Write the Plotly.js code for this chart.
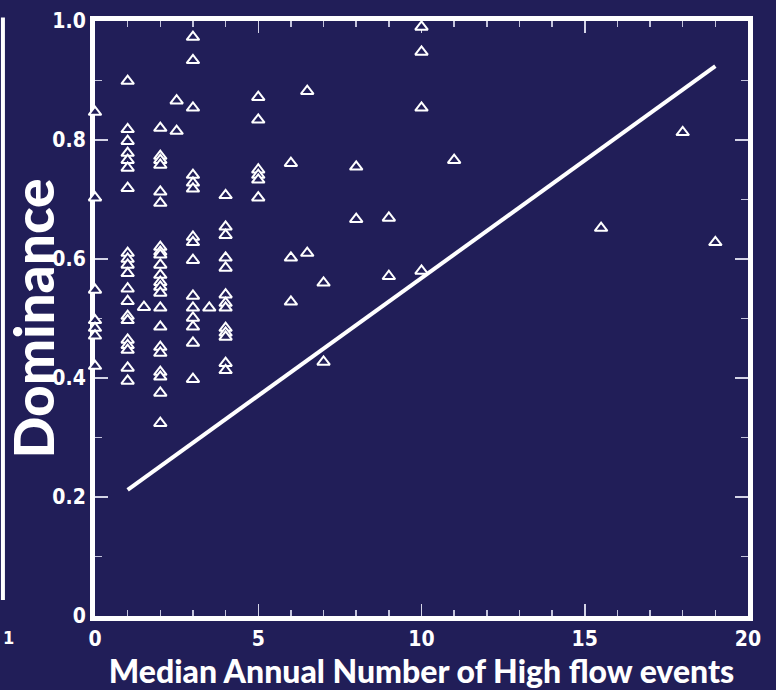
<!DOCTYPE html>
<html>
<head>
<meta charset="utf-8">
<script src="https://cdn.plot.ly/plotly-3.0.1.min.js"></script>
<style>html,body{margin:0;padding:0;background:#211e58;}</style>
</head>
<body>
<div id="chart" style="width:776px;height:690px;"></div>
<script>
// Median annual number of high-flow events: distinct x values
const eventCounts = [0, 1, 1.5, 2, 2.5, 3, 3.5, 4, 5, 6, 6.5, 7, 8, 9, 10, 11, 15.5, 18, 19];
// Dominance values of the stations at each x value (same order as eventCounts)
const dom0    = [0.847, 0.703, 0.548, 0.497, 0.484, 0.471, 0.420];
const dom1    = [0.899, 0.818, 0.798, 0.778, 0.766, 0.753, 0.719, 0.610, 0.600, 0.590, 0.576, 0.550, 0.529, 0.504, 0.497, 0.464, 0.455, 0.447, 0.417, 0.395];
const dom1_5  = [0.519];
const dom2    = [0.820, 0.773, 0.766, 0.758, 0.713, 0.694, 0.620, 0.612, 0.607, 0.590, 0.573, 0.561, 0.553, 0.543, 0.518, 0.486, 0.452, 0.442, 0.410, 0.402, 0.375, 0.324];
const dom2_5  = [0.866, 0.815];
const dom3    = [0.973, 0.934, 0.854, 0.741, 0.728, 0.718, 0.637, 0.628, 0.598, 0.538, 0.518, 0.501, 0.486, 0.459, 0.398];
const dom3_5  = [0.518];
const dom4    = [0.707, 0.654, 0.640, 0.602, 0.585, 0.540, 0.526, 0.518, 0.484, 0.476, 0.469, 0.425, 0.413];
const dom5    = [0.872, 0.834, 0.750, 0.741, 0.733, 0.703];
const dom6    = [0.761, 0.602, 0.528];
const dom6_5  = [0.882, 0.610];
const dom7    = [0.560, 0.427];
const dom8    = [0.755, 0.667];
const dom9    = [0.669, 0.571];
const dom10   = [0.990, 0.948, 0.854, 0.580];
const dom11   = [0.766];
const dom15_5 = [0.652];
const dom18   = [0.813];
const dom19   = [0.628];
const dominanceGroups = [dom0, dom1, dom1_5, dom2, dom2_5, dom3, dom3_5, dom4, dom5, dom6, dom6_5, dom7, dom8, dom9, dom10, dom11, dom15_5, dom18, dom19];

// Fitted trend line end points
const fitX = [1, 19];
const fitY = [0.212, 0.924];

const xTickVals = [0, 5, 10, 15, 20];
const xTickText = ['0', '5', '10', '15', '20'];
const yTickVals = [0, 0.2, 0.4, 0.6, 0.8, 1.0];
const yTickText = ['0', '0.2', '0.4', '0.6', '0.8', '1.0'];

const ptsX = [], ptsY = [];
eventCounts.forEach((xv, i) => dominanceGroups[i].forEach(yv => { ptsX.push(xv); ptsY.push(yv); }));

const bg = '#211e58';
const tickFont = {family: '"DejaVu Sans Condensed", "Liberation Sans Narrow", "Liberation Sans", sans-serif', size: 21, color: '#ffffff', weight: 'bold'};
const titleFamily = '"Lato", "Noto Sans", "DejaVu Sans", sans-serif';

const traces = [
  {
    x: fitX, y: fitY, type: 'scatter', mode: 'lines',
    line: {color: '#ffffff', width: 4},
    hoverinfo: 'skip', showlegend: false
  },
  {
    x: ptsX, y: ptsY, type: 'scatter', mode: 'markers',
    cliponaxis: false,
    marker: {symbol: 'triangle-up', size: 11, color: bg, line: {color: '#ffffff', width: 2}},
    showlegend: false
  }
];

const layout = {
  width: 776, height: 690,
  paper_bgcolor: bg, plot_bgcolor: bg,
  margin: {l: 95, r: 28, t: 21, b: 74},
  showlegend: false,
  xaxis: {
    range: [0, 20], showgrid: false, zeroline: false,
    showline: true, linecolor: '#ffffff', linewidth: 5, mirror: 'ticks',
    ticks: 'inside', ticklen: 12, tickwidth: 1.5, tickcolor: '#d4d4e6',
    tickvals: xTickVals, ticktext: xTickText, tickfont: tickFont,
    minor: {dtick: 1, ticks: 'inside', ticklen: 6, tickwidth: 1.5, tickcolor: '#c4c4dc'},
    layer: 'below traces',
    title: {text: 'Median Annual Number of High flow events', standoff: 5,
            font: {family: titleFamily, size: 32, color: '#ffffff', weight: 900}}
  },
  yaxis: {
    range: [0, 1], showgrid: false, zeroline: false,
    showline: true, linecolor: '#ffffff', linewidth: 5, mirror: 'ticks',
    ticks: 'inside', ticklen: 13, tickwidth: 1.5, tickcolor: '#d4d4e6',
    tickvals: yTickVals, ticktext: yTickText, tickfont: tickFont,
    minor: {dtick: 0.1, ticks: 'inside', ticklen: 7, tickwidth: 1.5, tickcolor: '#c4c4dc'},
    layer: 'below traces',
    title: {text: 'Dominance', standoff: 0,
            font: {family: titleFamily, size: 55, color: '#ffffff', weight: 900}}
  },
  shapes: [
    {type: 'line', xref: 'paper', yref: 'paper', x0: -0.141, x1: -0.141, y0: 0.027, y1: 1.006,
     line: {color: '#ffffff', width: 4}}
  ],
  annotations: [
    {xref: 'paper', yref: 'paper', x: (1 - 95) / 653, y: (616 - 637) / 595, xanchor: 'left', yanchor: 'middle',
     text: '1', showarrow: false, font: {family: tickFont.family, size: 18, color: '#ffffff', weight: 'bold'}}
  ]
};

Plotly.newPlot('chart', traces, layout, {displayModeBar: false, staticPlot: true});
</script>
</body>
</html>
